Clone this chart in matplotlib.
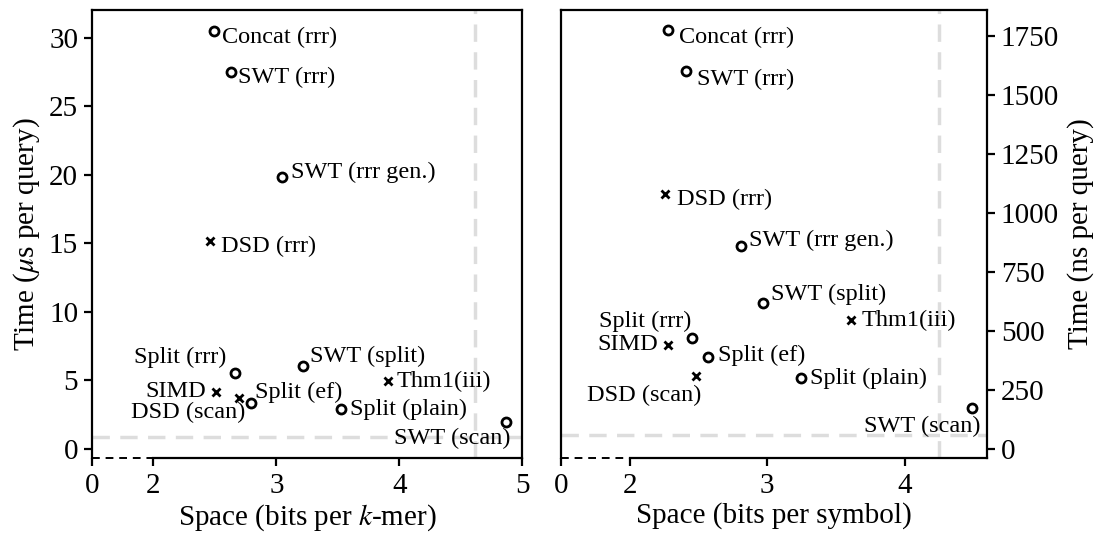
import matplotlib
matplotlib.use("Agg")
import matplotlib.pyplot as plt
import matplotlib.transforms as mtransforms

plt.rcParams['font.family'] = ['Liberation Serif', 'DejaVu Serif']
plt.rcParams['mathtext.fontset'] = 'stix'
plt.rcParams['font.size'] = 17

# ---------------- data ----------------
labels = ["Concat (rrr)", "SWT (rrr)", "SWT (rrr gen.)", "DSD (rrr)",
          "Split (rrr)", "SIMD", "DSD (scan)", "Split (ef)",
          "SWT (split)", "Thm1(iii)", "Split (plain)", "SWT (scan)"]
markers = ["o", "o", "o", "x", "o", "x", "x", "o", "o", "x", "o", "o"]

kmer_space = [2.49, 2.63, 3.05, 2.46, 2.66, 2.51, 2.70, 2.79, 3.22, 3.91, 3.53, 4.87]
kmer_time_us = [30.5, 27.5, 19.8, 15.2, 5.55, 4.18, 3.75, 3.33, 6.06, 4.96, 2.9, 2.0]

sym_space = [2.28, 2.41, 2.81, 2.26, 2.45, 2.28, 2.48, 2.57, 2.97, 3.61, 3.25, 4.49]
sym_time_ns = [1779, 1603, 862, 1080, 471, 443, 311, 391, 619, 546, 300, 173]

kmer_ref = (4.62, 0.85)     # (space, time) reference lines
sym_ref = (4.25, 60)

kmer_xticks = [1.5, 2, 3, 4, 5]
kmer_xticklabels = ["0", "2", "3", "4", "5"]
kmer_yticks = [0, 5, 10, 15, 20, 25, 30]
sym_xticks = [1.5, 2, 3, 4]
sym_xticklabels = ["0", "2", "3", "4"]
sym_yticks = [0, 250, 500, 750, 1000, 1250, 1500, 1750]

# label placement (offset in points, horizontal alignment)
kmer_offsets = [((6, -5), "left"), ((5, -4), "left"), ((6, 4), "left"), ((8, -4), "left"),
                ((-6, 11), "right"), ((-7, 0), "right"), ((4, -11), "right"), ((3, 8), "left"),
                ((5, 7), "left"), ((6, 0), "left"), ((6, 0), "left"), ((3, -12), "right")]
sym_offsets = [((8, -6), "left"), ((8, -6), "left"), ((6, 4), "left"), ((8, -4), "left"),
               ((0, 12), "right"), ((-7, 0), "right"), ((4, -14), "right"), ((7, 1), "left"),
               ((6, 6), "left"), ((8, 0), "left"), ((6, 0), "left"), ((6, -13), "right")]

ANN = 17.5
TICK = 21
LAB = 21

fig = plt.figure(figsize=(10.97, 5.35), dpi=100)
axL = fig.add_axes([0.0839, 0.1439, 0.392, 0.837])
axR = fig.add_axes([0.5114, 0.1439, 0.3883, 0.837])


def draw(ax, xs, ys, offsets, ref, xlim, ylim, xticks, xticklabels, yticks):
    ax.set_xlim(*xlim)
    ax.set_ylim(*ylim)
    ax.axvline(ref[0], color="#dddddd", lw=2.5, ls=(0, (5, 3)), zorder=0)
    ax.axhline(ref[1], color="#dddddd", lw=2.5, ls=(0, (5, 3)), zorder=0)
    for x, y, m, lab, (off, ha) in zip(xs, ys, markers, labels, offsets):
        if m == "o":
            ax.plot(x, y, marker="o", ms=6.5, mfc="none", mec="black", mew=2, ls="none", zorder=3)
        else:
            ax.plot(x, y, marker="x", ms=5.5, mec="black", mew=2, ls="none", zorder=3)
        ax.annotate(lab, (x, y), xytext=off, textcoords="offset points",
                    ha=ha, va="center", fontsize=ANN, zorder=4)
    ax.set_xticks(xticks)
    ax.set_xticklabels(xticklabels)
    ax.set_yticks(yticks)
    for s in ax.spines.values():
        s.set_linewidth(1.6)
    ax.spines["bottom"].set_bounds(2, xlim[1])
    trans = mtransforms.blended_transform_factory(ax.transData, ax.transAxes)
    ax.plot([xlim[0], 2], [0, 0], transform=trans, color="black", lw=1.4,
            ls=(0, (4, 3)), clip_on=False, zorder=5)
    ax.tick_params(width=1.6, length=6, labelsize=TICK)
    ax.tick_params(axis="x", pad=5)
    ax.tick_params(axis="y", pad=4)


draw(axL, kmer_space, kmer_time_us, kmer_offsets, kmer_ref, (1.5, 5.0), (-0.66, 32.0),
     kmer_xticks, kmer_xticklabels, kmer_yticks)
axL.set_xlabel("Space (bits per $k$-mer)", fontsize=LAB, labelpad=2)
axL.set_ylabel(r"Time ($\mu$s per query)", fontsize=LAB, labelpad=5)

draw(axR, sym_space, sym_time_ns, sym_offsets, sym_ref, (1.5, 4.6), (-38, 1861),
     sym_xticks, sym_xticklabels, sym_yticks)
axR.yaxis.tick_right()
axR.yaxis.set_label_position("right")
axR.set_xlabel("Space (bits per symbol)", fontsize=LAB, labelpad=2)
axR.set_ylabel("Time (ns per query)", fontsize=LAB, labelpad=6)

fig.savefig("out.png", dpi=100)
